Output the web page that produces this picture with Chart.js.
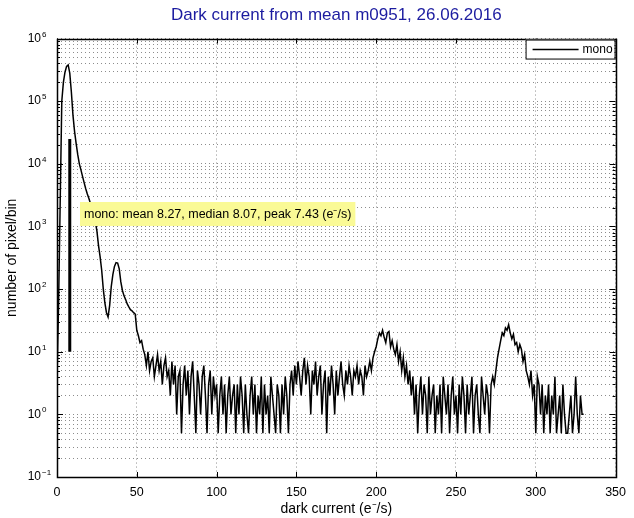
<!DOCTYPE html>
<html>
<head>
<meta charset="utf-8">
<title>Dark current from mean m0951</title>
<script src="https://cdn.jsdelivr.net/npm/chart.js@4.4.0/dist/chart.umd.min.js"></script>
<style>
  html, body { margin: 0; padding: 0; background: #fff; }
  #wrap { width: 634px; height: 518px; }
</style>
</head>
<body>
<div id="wrap"><canvas id="chart" width="634" height="518"></canvas></div>
<script>
// histogram bins: 1 e-/s wide, starting at 0 (empty bins drawn at 0.5)
const binStart = 0;
const binWidth = 1;

const countsPeak = [
    3.5, 60, 2500, 100000, 200000, 290000, 360000, 380000, 280000, 140000,
    60000, 33000, 21000, 14000, 10000, 8000, 6300, 5000, 4000, 3300,
    2800, 2300, 1800, 1400, 1200, 850, 500, 330, 200, 100,
    60, 42, 36, 55, 110, 170, 230, 265, 260, 210,
    130, 95, 78, 68, 58, 52, 47, 45, 42, 40
];
const countsTail1 = [
    22, 18, 14, 15, 11, 9, 6, 10, 5, 7,
    8, 4, 6, 9, 5, 7, 3, 6, 8, 4,
    5, 2, 7, 3, 6, 1, 4, 5, 0.5, 3,
    6, 2, 5, 1, 4, 7, 2, 0.5, 5, 3,
    1, 4, 6, 2, 0.5, 3, 5, 1, 4, 2
];
const countsTail2 = [
    3, 0.5, 2, 4, 1, 3, 0.5, 2, 4, 1,
    2, 3, 0.5, 3, 1, 4, 2, 0.5, 3, 1,
    0.5, 2, 4, 1, 3, 0.5, 2, 1, 4, 0.5,
    3, 1, 2, 0.5, 4, 2, 1, 0.5, 3, 2,
    0.5, 3, 1, 4, 2, 0.5, 3, 5, 2, 6
];
const countsBump1 = [
    3, 7, 4, 2, 5, 8, 3, 6, 4, 1,
    5, 3, 7, 2, 4, 6, 1, 3, 5, 0.5,
    4, 2, 6, 3, 1, 5, 2, 4, 7, 3,
    2, 5, 3, 6, 4, 2, 5, 4, 6, 3,
    5, 4, 2, 6, 4, 5, 7, 5, 8, 10,
    12, 16, 20, 18, 22, 17, 14, 20, 21, 12,
    15, 11, 9, 13, 7, 10, 5, 8, 4, 6
];
const countsTail3 = [
    3, 5, 2, 4, 1, 3, 0.5, 2, 4, 1,
    3, 2, 0.5, 4, 1, 2, 3, 0.5, 2, 1,
    3, 0.5, 4, 2, 1, 3, 0.5, 2, 4, 1,
    2, 0.5, 3, 1, 4, 2, 0.5, 3, 1, 2,
    4, 0.5, 2, 3, 1, 0.5, 4, 2, 1, 3
];
const countsBump2 = [
    2, 0.5, 3, 4, 3, 5, 8, 11, 15, 20,
    18, 24, 22, 27, 20, 16, 19, 13, 14, 10,
    13, 11, 7, 9, 5, 4, 3, 5, 2, 3
];
const countsTail4 = [
    0.5, 4, 3, 1, 3, 0.5, 2, 1, 3, 0.5,
    2, 1, 4, 0.5, 1, 2, 0.5, 3, 1, 0.5,
    0.5, 1, 2, 0.5, 1, 4, 1, 0.5, 2, 1,
    1
];

// thick marker line near the peak
const markerX = [8, 8];
const markerY = [10, 25000];

const xTicks = [0, 50, 100, 150, 200, 250, 300, 350];
const yDecades = [0.1, 1, 10, 100, 1000, 10000, 100000, 1000000];
const yExponents = ['\u22121', '0', '1', '2', '3', '4', '5', '6'];

const titleText = 'Dark current from mean m0951, 26.06.2016';
const xTitle = 'dark current (e\u207B/s)';
const yTitle = 'number of pixel/bin';
const seriesName = 'mono';
const statsText = 'mono: mean 8.27, median 8.07, peak 7.43 (e\u207B/s)';

const FONT = '"Liberation Sans", Arial, Helvetica, sans-serif';

const counts = [].concat(countsPeak, countsTail1, countsTail2, countsBump1,
    countsTail3, countsBump2, countsTail4);
const histPoints = counts.map((c, i) => ({ x: binStart + i * binWidth, y: c }));
const markerPoints = markerX.map((x, i) => ({ x: x, y: markerY[i] }));

// minor log ticks (2..9 in each decade)
const yMinor = [];
yDecades.slice(0, -1).forEach(d => {
    for (let m = 2; m <= 9; m++) yMinor.push(d * m);
});
const yAllTicks = yDecades.concat(yMinor).sort((a, b) => a - b);

const framePlugin = {
    id: 'frame',
    afterDatasetsDraw(chart) {
        const { ctx, chartArea: a, scales } = chart;
        ctx.save();
        ctx.strokeStyle = '#000';
        ctx.lineWidth = 1;
        ctx.beginPath();
        // x ticks (inside, top and bottom)
        xTicks.forEach(v => {
            const px = Math.round(scales.x.getPixelForValue(v)) + 0.5;
            ctx.moveTo(px, a.bottom); ctx.lineTo(px, a.bottom - 5);
            ctx.moveTo(px, a.top); ctx.lineTo(px, a.top + 5);
        });
        // y ticks, major and minor
        yAllTicks.forEach(v => {
            const len = yDecades.includes(v) ? 6 : 3;
            const py = Math.round(scales.y.getPixelForValue(v)) + 0.5;
            ctx.moveTo(a.left, py); ctx.lineTo(a.left + len, py);
            ctx.moveTo(a.right, py); ctx.lineTo(a.right - len, py);
        });
        ctx.stroke();
        ctx.lineWidth = 1.5;
        ctx.strokeRect(Math.round(a.left) + 0.5, Math.round(a.top) + 0.5,
            Math.round(a.right - a.left), Math.round(a.bottom - a.top));
        ctx.restore();
    },
    afterDraw(chart) {
        const { ctx, chartArea: a, scales } = chart;
        ctx.save();
        ctx.fillStyle = '#000';
        // y tick labels 10^n
        yDecades.forEach((v, i) => {
            const py = scales.y.getPixelForValue(v);
            ctx.font = '12px ' + FONT;
            ctx.textAlign = 'right';
            ctx.textBaseline = 'middle';
            ctx.fillText('10', a.left - 16, py);
            ctx.font = '8px ' + FONT;
            ctx.textAlign = 'left';
            ctx.textBaseline = 'alphabetic';
            ctx.fillText(yExponents[i], a.left - 15, py - 2);
        });

        // stats box
        ctx.font = '12.5px ' + FONT;
        const tw = ctx.measureText(statsText).width;
        const bx = a.left + 23, by = 202;
        ctx.fillStyle = '#fafa96';
        ctx.fillRect(bx, by, tw + 8, 24);
        ctx.fillStyle = '#000';
        ctx.textAlign = 'left';
        ctx.textBaseline = 'middle';
        ctx.fillText(statsText, bx + 4, by + 12.5);

        // legend
        const lx = a.right - 90, ly = a.top + 1;
        ctx.fillStyle = '#fff';
        ctx.fillRect(lx, ly, 89, 19);
        ctx.strokeStyle = '#000';
        ctx.lineWidth = 1;
        ctx.strokeRect(lx + 0.5, ly + 0.5, 89, 19);
        ctx.lineWidth = 1.5;
        ctx.beginPath();
        ctx.moveTo(lx + 7, ly + 10); ctx.lineTo(lx + 53, ly + 10);
        ctx.stroke();
        ctx.font = '12px ' + FONT;
        ctx.fillStyle = '#000';
        ctx.fillText(seriesName, lx + 57, ly + 10.5);
        ctx.restore();
    }
};

const ctx = document.getElementById('chart').getContext('2d');
new Chart(ctx, {
    type: 'line',
    data: {
        datasets: [{
            label: seriesName,
            data: histPoints,
            borderColor: '#000',
            borderWidth: 1.5,
            pointRadius: 0,
            tension: 0,
            fill: false
        }, {
            label: 'marker',
            data: markerPoints,
            borderColor: '#000',
            borderWidth: 3,
            pointRadius: 0,
            fill: false
        }]
    },
    options: {
        responsive: false,
        animation: false,
        devicePixelRatio: 1,
        layout: { padding: { left: 0, right: 14, top: 0, bottom: 0 } },
        plugins: {
            legend: { display: false },
            tooltip: { enabled: false },
            title: {
                display: true,
                text: titleText,
                color: '#1c1ca0',
                fullSize: false,
                font: { family: FONT, size: 17, weight: 'normal', lineHeight: 1.15 },
                padding: { top: 6, bottom: 13 }
            }
        },
        scales: {
            x: {
                type: 'linear',
                min: 0,
                max: 350,
                afterBuildTicks: s => { s.ticks = xTicks.map(v => ({ value: v })); },
                afterFit: s => { s.height = 41; },
                ticks: {
                    color: '#000',
                    padding: 8,
                    maxRotation: 0,
                    font: { family: FONT, size: 12.5 }
                },
                grid: {
                    color: 'rgba(0,0,0,0.45)',
                    lineWidth: 1,
                    drawTicks: false
                },
                border: { display: false, dash: [1, 3] },
                title: {
                    display: true,
                    text: xTitle,
                    color: '#000',
                    font: { family: FONT, size: 14 },
                    padding: { top: 0, bottom: 0 }
                }
            },
            y: {
                type: 'logarithmic',
                min: 0.1,
                max: 1000000,
                afterBuildTicks: s => { s.ticks = yAllTicks.map(v => ({ value: v })); },
                afterFit: s => { s.width = 57; },
                ticks: { display: false },
                grid: {
                    color: 'rgba(0,0,0,0.45)',
                    lineWidth: 1,
                    drawTicks: false
                },
                border: { display: false, dash: [1, 3] },
                title: {
                    display: true,
                    text: yTitle,
                    color: '#000',
                    font: { family: FONT, size: 14 },
                    padding: { top: 4, bottom: 0 }
                }
            }
        }
    },
    plugins: [framePlugin]
});
</script>
</body>
</html>
